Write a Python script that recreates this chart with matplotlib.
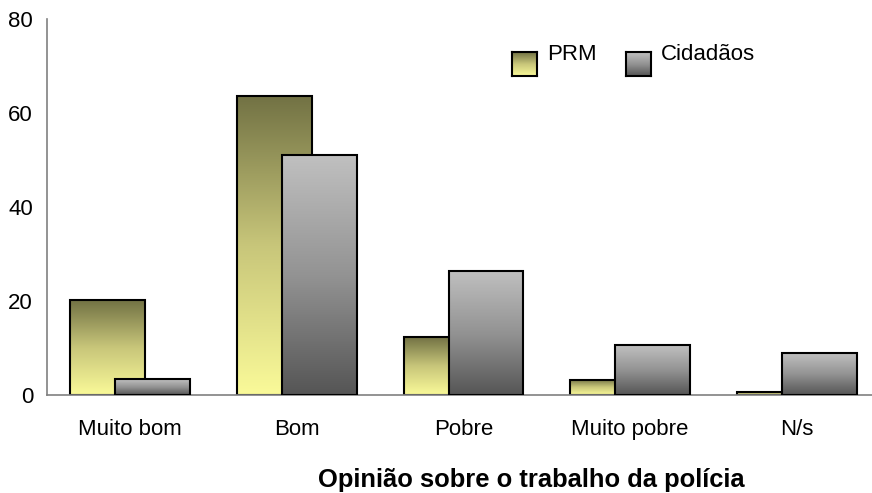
import numpy as np
import matplotlib
matplotlib.use("Agg")
import matplotlib.pyplot as plt
from matplotlib.colors import LinearSegmentedColormap

plt.rcParams['font.family'] = ['Liberation Sans', 'DejaVu Sans']

# data
categorias = ["Muito bom", "Bom", "Pobre", "Muito pobre", "N/s"]
prm = [20.2, 63.6, 12.3, 3.2, 0.6]
cidadaos = [3.4, 51.0, 26.4, 10.6, 8.9]
series = ["PRM", "Cidadãos"]

# gradients: index 0 = bottom, 1 = top
cmap_prm = LinearSegmentedColormap.from_list("prm", ["#fafa99", "#c8c67a", "#727244"])
cmap_cid = LinearSegmentedColormap.from_list("cid", ["#555555", "#939393", "#c0c0c0"])
grad = np.linspace(0, 1, 256).reshape(-1, 1)

fig = plt.figure(figsize=(8.72, 4.93), dpi=100)
ax = fig.add_axes([47/872, 98/493, 833/872, 376/493])

x = np.arange(len(categorias))
w = 0.45
off = 0.135

def gradient_bars(xpos, vals, cmap, z):
    bars = ax.bar(xpos, vals, width=w, facecolor="none", edgecolor="black",
                  linewidth=1.5, zorder=z + 0.5)
    for b in bars:
        x0, y0 = b.get_x(), b.get_y()
        ax.imshow(grad, extent=[x0, x0 + b.get_width(), y0, y0 + b.get_height()],
                  origin="lower", aspect="auto", cmap=cmap, zorder=z)
    return bars

gradient_bars(x - off, prm, cmap_prm, 2)
gradient_bars(x + off, cidadaos, cmap_cid, 3)

ax.set_xlim(-0.5, len(categorias) - 0.5)
ax.set_ylim(0, 80)
ax.set_yticks([0, 20, 40, 60, 80])
ax.set_xticks(x)
ax.set_xticklabels(categorias)
ax.tick_params(axis="both", length=0, labelsize=16)
ax.tick_params(axis="x", pad=17)
ax.tick_params(axis="y", pad=10)
for s in ["top", "right"]:
    ax.spines[s].set_visible(False)
for s in ["left", "bottom"]:
    ax.spines[s].set_color("#808080")
    ax.spines[s].set_linewidth(1.2)

# legend with gradient swatches
for (sx, cm), label in zip([(512, cmap_prm), (626, cmap_cid)], series):
    sw = fig.add_axes([sx/872, 1 - 76/493, 25/872, 24/493])
    sw.imshow(grad, origin="lower", aspect="auto", cmap=cm)
    sw.set_xticks([])
    sw.set_yticks([])
    for sp in sw.spines.values():
        sp.set_linewidth(1.5)
    fig.text((sx + 35)/872, 1 - 54/493, label, fontsize=16, ha="left", va="center")

fig.text(531/872, 1 - 480/493, "Opinião sobre o trabalho da polícia",
         fontsize=18.4, fontweight="bold", ha="center", va="center")

fig.savefig("out.png", dpi=100)
